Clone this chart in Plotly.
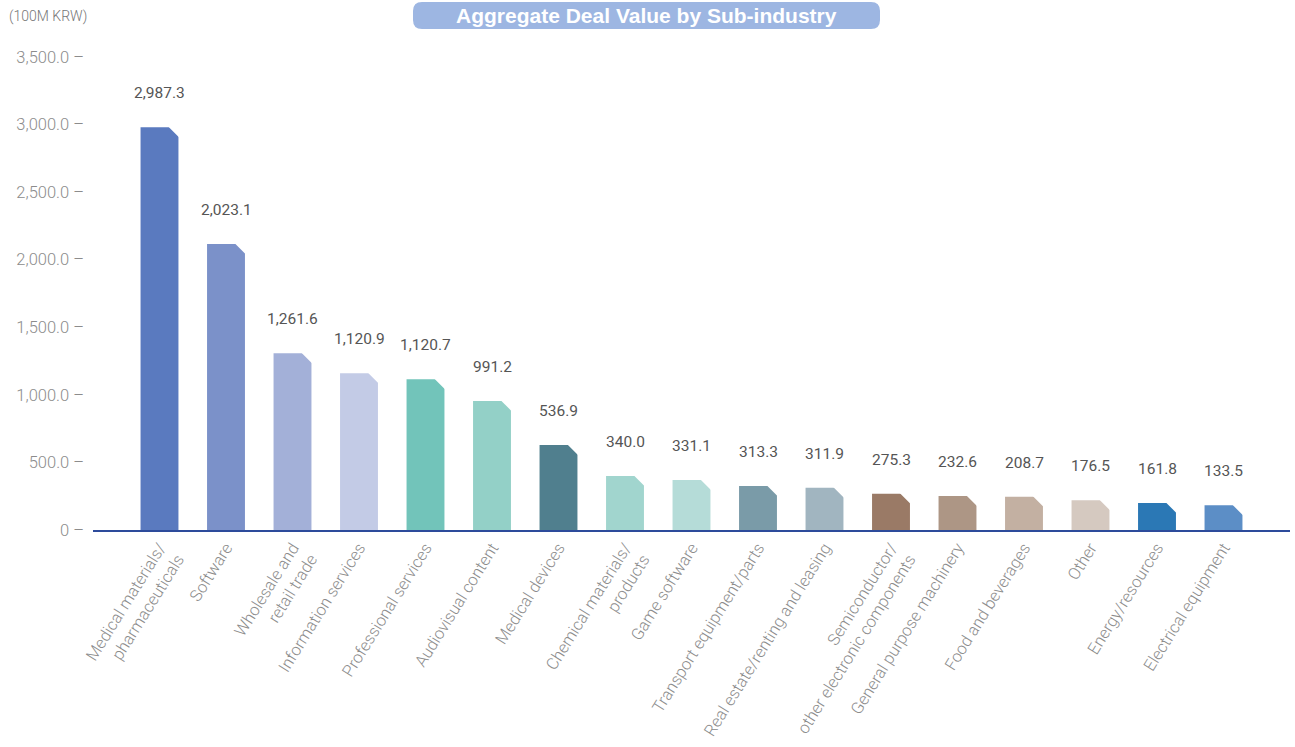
import plotly.graph_objects as go

# ---------------- data ----------------
categories = [
    "Medical materials/<br>pharmaceuticals", "Software", "Wholesale and<br>retail trade",
    "Information services", "Professional services", "Audiovisual content",
    "Medical devices", "Chemical materials/<br>products", "Game software",
    "Transport equipment/parts", "Real estate/renting and leasing",
    "Semiconductor/<br>other electronic components", "General purpose machinery",
    "Food and beverages", "Other", "Energy/resources", "Electrical equipment",
]
deal_values = [2987.3, 2023.1, 1261.6, 1120.9, 1120.7, 991.2, 536.9, 340.0, 331.1,
               313.3, 311.9, 275.3, 232.6, 208.7, 176.5, 161.8, 133.5]
# bar heights as drawn in the reference picture
bar_heights = [2980, 2116, 1307, 1160, 1115, 955, 629, 400, 370,
               326, 313, 269, 252, 246, 220, 200, 183]
bar_colors = ["#5a7abf", "#7b91c9", "#a3b0d8", "#c3cbe6", "#72c4ba", "#93d0c7",
              "#507f8e", "#a1d5ce", "#b5dcd8", "#7a9ba8", "#a1b5c0", "#9a7a66",
              "#ad9685", "#c3b0a2", "#d5c9c0", "#2b78b5", "#5c8ec6"]
y_tick_values = [0, 500, 1000, 1500, 2000, 2500, 3000, 3500]
y_tick_labels = ["0", "500.0", "1,000.0", "1,500.0", "2,000.0", "2,500.0", "3,000.0", "3,500.0"]
title_text = "Aggregate Deal Value by Sub-industry"
unit_text = "(100M KRW)"

# ---------------- layout constants ----------------
W, H = 1295, 747
ML, MT = 93, 57
PLOT_R, PLOT_B = 1290, 530
MR, MB = W - PLOT_R, H - PLOT_B
PW, PH = PLOT_R - ML, PLOT_B - MT
X_RANGE = [-1, len(categories)]
Y_RANGE = [0, 3500]
BAR_W = 0.57
px_per_x = PW / (X_RANGE[1] - X_RANGE[0])
px_per_y = PH / (Y_RANGE[1] - Y_RANGE[0])

LIGHT = "Roboto, Liberation Sans, Arial, sans-serif"
REG = "Liberation Sans, Arial, sans-serif"

xs = list(range(len(categories)))

fig = go.Figure()
fig.add_trace(go.Bar(
    x=xs, y=bar_heights, width=BAR_W,
    marker=dict(color=bar_colors, line=dict(width=0)),
    hoverinfo="skip", showlegend=False,
))

# chamfer on top-right corner: white right triangle (right angle at (0.6r, -0.6r))
CH = 11.5  # chamfer leg in px
r = CH / 1.8
tri_x = [x + BAR_W / 2 + 1 / px_per_x - 0.6 * r / px_per_x for x in xs]
tri_y = [h + 1 / px_per_y - 0.6 * r / px_per_y for h in bar_heights]
fig.add_trace(go.Scatter(
    x=tri_x, y=tri_y, mode="markers",
    marker=dict(symbol="triangle-ne", size=2 * r, color="white", line=dict(width=0)),
    hoverinfo="skip", showlegend=False, cliponaxis=False,
))

for x, h, v in zip(xs, bar_heights, deal_values):
    fig.add_annotation(x=x, y=h, text=f"{v:,.1f}", showarrow=False, yshift=34,
                       yanchor="middle", xanchor="center",
                       font=dict(family=LIGHT, size=15.5, color="#555555"))

def px2paper_x(px):
    return (px - ML) / PW

def px2paper_y(py):
    return (PLOT_B - py) / PH

# title pill
x0, x1 = px2paper_x(413), px2paper_x(880)
y0, y1 = px2paper_y(29), px2paper_y(2)
rx, ry = 9 / PW, 9 / PH
path = (f"M {x0+rx},{y0} L {x1-rx},{y0} Q {x1},{y0} {x1},{y0+ry} L {x1},{y1-ry} "
        f"Q {x1},{y1} {x1-rx},{y1} L {x0+rx},{y1} Q {x0},{y1} {x0},{y1-ry} "
        f"L {x0},{y0+ry} Q {x0},{y0} {x0+rx},{y0} Z")
fig.add_shape(type="path", path=path, xref="paper", yref="paper",
              fillcolor="#9db6e2", line=dict(width=0), layer="above")
fig.add_annotation(x=(x0 + x1) / 2, y=(y0 + y1) / 2, xref="paper", yref="paper",
                   text=f"<b>{title_text}</b>", showarrow=False,
                   xanchor="center", yanchor="middle",
                   font=dict(family=REG, size=21, color="white"))
fig.add_annotation(x=px2paper_x(7), y=px2paper_y(17), xref="paper", yref="paper",
                   text=unit_text, showarrow=False, xanchor="left", yanchor="middle",
                   font=dict(family=LIGHT, size=14, color="#777777", weight=300))

fig.update_layout(
    width=W, height=H,
    margin=dict(l=ML, r=MR, t=MT, b=MB, autoexpand=False),
    paper_bgcolor="white", plot_bgcolor="white",
    xaxis=dict(
        range=X_RANGE, tickmode="array", tickvals=xs, ticktext=categories,
        tickangle=-58, showgrid=False, zeroline=False, automargin=False,
        showline=True, linecolor="#2d4b9b", linewidth=1.5,
        ticks="", tickfont=dict(family=LIGHT, size=16.5, color="#8c8c8c", weight=300),
        ticklabelstandoff=0,
    ),
    yaxis=dict(
        range=Y_RANGE, tickmode="array", tickvals=y_tick_values,
        ticktext=[t + " \u2013" for t in y_tick_labels], automargin=False,
        showgrid=False, zeroline=False, showline=False, ticks="",
        tickfont=dict(family=LIGHT, size=16.5, color="#8c8c8c", weight=300),
        ticklabelstandoff=8,
    ),
)

fig.write_html(
    "out.html",
    config={"displayModeBar": False},
    post_script="document.body.style.margin='0';document.body.style.overflow='hidden';",
)
